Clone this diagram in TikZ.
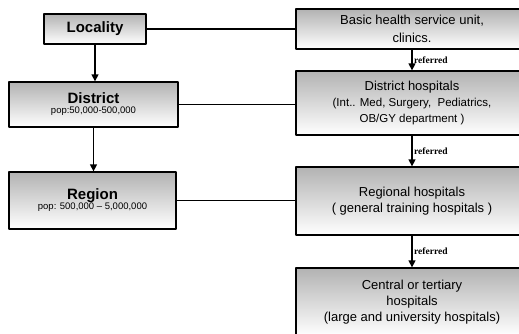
\documentclass[tikz,border=0pt]{standalone}
\usepackage{fontspec}
\setmainfont{Liberation Sans}
\newfontfamily\reffont{Liberation Serif}
\usetikzlibrary{arrows.meta}
\begin{document}
\begin{tikzpicture}[x=1pt,y=-1pt,>={Triangle[length=7pt,width=7pt]},line join=round,
  level/.style={draw,line width=1.3pt,top color=black!30,bottom color=white,inner sep=0pt,align=center},
  unit/.style={level,minimum width=232pt,font=\fontsize{13}{16}\selectfont},
  link/.style={line width=1.3pt},
  refer/.style={font=\reffont\bfseries\fontsize{9.5}{10}\selectfont,right,inner sep=1.5pt}]
\useasboundingbox (0,0) rectangle (519,333);
\clip (0,0) rectangle (519,333);
% administrative levels
\node[level,minimum width=102pt,minimum height=30pt,font=\bfseries\fontsize{15}{17}\selectfont] (loc) at (95,29) {Locality};
\node[level,minimum width=169pt,minimum height=45pt] (dis) at (93.5,104.5)
  {{\bfseries\fontsize{15}{17}\selectfont District}\\[-2pt]{\fontsize{9.5}{10}\selectfont pop:50,000-500,000}};
\node[level,minimum width=167pt,minimum height=57pt] (reg) at (92.5,200.5)
  {{\bfseries\fontsize{15}{17}\selectfont Region}\\[-2pt]{\fontsize{9.5}{10}\selectfont pop: 500,000 -- 5,000,000}};
% health service units
\node[unit,minimum height=40pt] (bhsu) at (412,29) {Basic health service unit,\\[2pt]clinics.};
\node[unit,minimum height=64pt] (dhosp) at (412,103)
  {District hospitals\\{\fontsize{11.5}{14}\selectfont (Int.. Med, Surgery,\ \ Pediatrics,}\\{\fontsize{11.5}{14}\selectfont OB/GY department )}};
\node[unit,minimum height=68pt] (rhosp) at (412,201) {Regional hospitals\\( general training hospitals )};
\node[unit,minimum height=68pt] (chosp) at (412,302) {Central or tertiary\\hospitals\\(large and university hospitals)};
% hierarchy
\draw[link,->] (loc.south) -- (loc.south |- dis.north);
\draw[link,->] (dis.south) -- (dis.south |- reg.north);
% correspondence
\draw[link] (loc.east) -- (loc.east -| bhsu.west);
\draw[link] (dis.east) -- (dis.east -| dhosp.west);
\draw[link] (reg.east) -- (reg.east -| rhosp.west);
% referral
\draw[link,->] (bhsu) -- (dhosp) node[refer,midway]{referred};
\draw[link,->] (dhosp) -- (rhosp) node[refer,midway]{referred};
\draw[link,->] (rhosp) -- (chosp) node[refer,midway]{referred};
\end{tikzpicture}
\end{document}
